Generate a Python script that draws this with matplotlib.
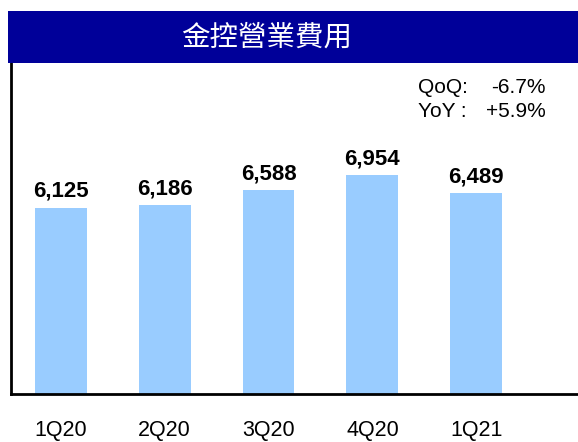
import matplotlib.pyplot as plt
from matplotlib.patches import Rectangle

quarters = ['1Q20', '2Q20', '3Q20', '4Q20', '1Q21']
expenses = [6125, 6186, 6588, 6954, 6489]
title = '金控營業費用'
qoq = ('QoQ:', '-6.7%')
yoy = ('YoY :', '+5.9%')

W, H = 578, 442
fig = plt.figure(figsize=(W / 100, H / 100), dpi=100)

# plot area: left spine at x=11, baseline at y=394, top under the banner
ax = fig.add_axes([11 / W, (H - 394) / H, (W - 11) / W, (394 - 63) / H])
x = range(len(quarters))
bars = ax.bar(x, expenses, width=0.5, color='#99CCFF', zorder=2)
ax.set_xlim(-0.48, 4.98)
ax.set_ylim(1306, 9860)

for b, v in zip(bars, expenses):
    ax.annotate(f'{v:,}', (b.get_x() + b.get_width() / 2, v),
                xytext=(0, 4), textcoords='offset points',
                ha='center', va='bottom', fontsize=16, fontweight='bold',
                family='Liberation Sans')

ax.set_xticks(list(x))
ax.set_xticklabels(quarters, fontsize=15.5, family='Liberation Sans')
ax.tick_params(axis='x', length=0, pad=19)
ax.set_yticks([])
for s in ('top', 'right'):
    ax.spines[s].set_visible(False)
for s in ('left', 'bottom'):
    ax.spines[s].set_linewidth(2)
    ax.spines[s].set_color('black')

# QoQ / YoY note in the upper right
for row, (lab, val) in zip((93, 117), (qoq, yoy)):
    fig.text(418 / W, 1 - row / H, lab, ha='left', va='baseline',
             fontsize=15, family='Liberation Sans')
    fig.text(546 / W, 1 - row / H, val, ha='right', va='baseline',
             fontsize=15, family='Liberation Sans')

# dark blue banner
fig.patches.append(Rectangle((8 / W, 1 - 63 / H), (W - 8) / W, 52 / H,
                             transform=fig.transFigure, facecolor='#000099',
                             edgecolor='none', zorder=0))
fig.text(267 / W, 1 - 38 / H, title, color='white',
         ha='center', va='center', fontsize=20.5, fontweight='medium',
         family=['Noto Sans CJK TC', 'DejaVu Sans'])

fig.savefig('out.png', dpi=100)
